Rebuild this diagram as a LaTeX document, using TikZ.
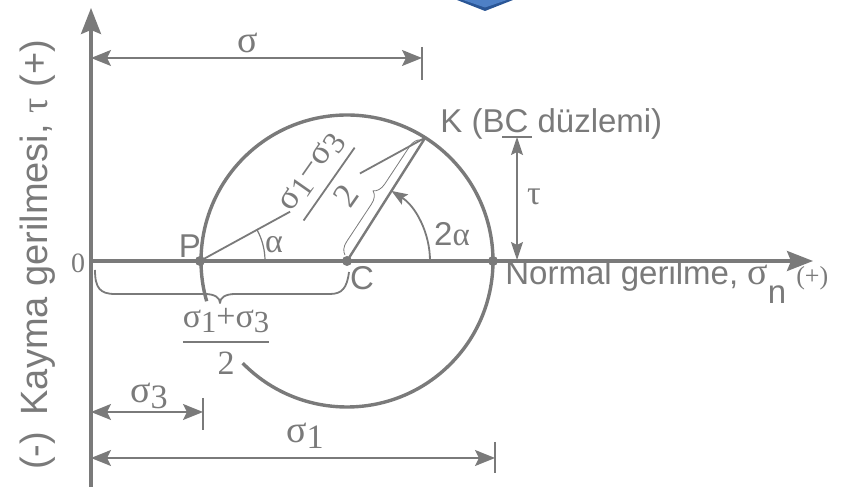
\documentclass[tikz,border=0pt]{standalone}
\usepackage{fontspec}
\setmainfont{Liberation Sans}
\newfontfamily\grk{Liberation Serif}
\usetikzlibrary{arrows.meta,decorations.pathreplacing,calc}
\definecolor{ink}{RGB}{122,122,122}
\definecolor{bluedark}{RGB}{42,86,150}
\definecolor{bluelight}{RGB}{78,128,198}
\newcommand{\dn}[1]{\raisebox{-0.35ex}{\scalebox{0.9}{#1}}}
\begin{document}
\begin{tikzpicture}[x=0.5pt,y=0.5pt, line join=round,
  axisline/.style={ink, line width=1.6pt, -{Stealth[length=13pt,width=10pt,inset=2pt]}},
  dimline/.style={ink, line width=0.8pt, {Stealth[length=10pt,width=8pt,inset=2pt]}-{Stealth[length=10pt,width=8pt,inset=2pt]}},
  tickline/.style={ink, line width=0.7pt},
  circ/.style={ink, line width=1.7pt},
  radius line/.style={ink, line width=1.2pt},
  chord/.style={ink, line width=0.9pt},
  thinarc/.style={ink, line width=0.6pt},
  dot/.style={circle, fill=ink, inner sep=0pt, minimum size=5pt},
  lbl/.style={text=ink, inner sep=0pt, font=\fontsize{16.5}{18}\selectfont},
  glbl/.style={text=ink, inner sep=0pt, font=\grk\fontsize{17}{18}\selectfont},
]
\useasboundingbox (0,0) rectangle (866,491);
% blue artefact at the top
\fill[bluedark] (457,491) -- (513,491) -- (485,480) -- cycle;
\fill[bluelight] (463,491) -- (507,491) -- (485,483.5) -- cycle;

% key points
\coordinate (O) at (91,230);
\coordinate (Ytop) at (91,483);
\coordinate (Ybot) at (91,4);
\coordinate (Xend) at (813,230);
\coordinate (P) at (200,230);
\coordinate (C) at (347,230);
\coordinate (S1) at (493,230);
\coordinate (K) at ($(C)+(57.6:146)$);

% axes
\draw[axisline] (Ybot) -- (Ytop);
\draw[axisline] (O) -- (Xend);

% Mohr circle (open between the two labels at lower left)
\draw[circ] ($(C)+(-135.6:146)$) arc[start angle=-135.6, end angle=196, radius=146];

% chord P-K, interrupted by the rotated label
\draw[chord] (P) -- ($(P)!0.40!(K)$);
\draw[chord] ($(P)!0.71!(K)$) -- (K);
% radius C-K
\draw[radius line] (C) -- (K);
% thin brace along CK
\draw[ink, line width=0.4pt, decorate, decoration={brace, amplitude=6pt}] ($(C)+(-2,6)$) -- ($(K)+(-4,-2)$);

% angle arcs
\draw[thinarc] ($(P)+(0:65)$) arc[start angle=0, end angle=28.7, radius=65];
\draw[ink, line width=0.9pt, -{Stealth[length=8pt,width=6pt,inset=1.5pt]}] ($(C)+(0:83)$) arc[start angle=0, end angle=57.6, radius=83];

% dots
\node[dot] (Pd) at (P) {};
\node[dot] (Cd) at (C) {};
\node[dot] (S1d) at (S1) {};

% brace below axis, from O to C
\draw[ink, line width=0.9pt] (95,221) .. controls (95,203) and (100,197) .. (115,197)
  -- (205,197) .. controls (215,197) and (220,193) .. (220,188)
  .. controls (220,193) and (225,197) .. (235,197)
  -- (330,197) .. controls (342,197) and (347,203) .. (349,219);

% dimension sigma (top)
\coordinate (sA) at (91,433);
\coordinate (sB) at (422,433);
\coordinate (sT1) at (422,444);
\coordinate (sT2) at (422,411);
\draw[dimline] (sA) -- (sB);
\draw[tickline] (sT1) -- (sT2);
\node[glbl, font=\grk\fontsize{19}{20}\selectfont] (lsig) at (248,448) {σ};

% dimension tau
\coordinate (tA) at (517,354);
\coordinate (tB) at (517,231);
\coordinate (tT1) at (502,354);
\coordinate (tT2) at (532,354);
\draw[dimline, {Stealth[length=9pt,width=6pt,inset=1.5pt]}-{Stealth[length=9pt,width=6pt,inset=1.5pt]}] (tA) -- (tB);
\draw[tickline] (tT1) -- (tT2);
\node[glbl] (ltau) at (534,294) {τ};

% dimension sigma3
\coordinate (s3A) at (91,79);
\coordinate (s3B) at (203,79);
\coordinate (s3T1) at (203,93);
\coordinate (s3T2) at (203,61);
\draw[dimline] (s3A) -- (s3B);
\draw[tickline] (s3T1) -- (s3T2);
\node[glbl, font=\grk\fontsize{19}{20}\selectfont] (ls3) at (149,95) {σ\dn{3}};

% dimension sigma1
\coordinate (s1A) at (91,33);
\coordinate (s1B) at (495,33);
\coordinate (s1T1) at (495,49);
\coordinate (s1T2) at (495,18);
\draw[dimline] (s1A) -- (s1B);
\draw[tickline] (s1T1) -- (s1T2);
\node[glbl, font=\grk\fontsize{19}{20}\selectfont] (ls1) at (305,55) {σ\dn{1}};

% labels
\node[lbl] (lP) at (190,245) {P};
\node[lbl] (lC) at (362,213) {C};
\node[glbl] (lalpha) at (274,246) {α};
\node[lbl] (l2a) at (452,257) {2{\grk α}};
\node[glbl, font=\grk\fontsize{14}{15}\selectfont] (lzero) at (78,228) {0};
\node[lbl, anchor=base west] (lK) at (440,358) {K (BC düzlemi)};
\node[lbl, anchor=base west] (lN) at (505,206) {Normal gerilme, {\grk\fontsize{19}{20}\selectfont σ}\raisebox{-0.55em}{n}\hspace{5pt}{\grk\fontsize{13}{14}\selectfont (+)}};
\node[lbl, rotate=90, font=\fontsize{19}{20}\selectfont] (lY) at (38,236) {(-)\hspace{3pt} Kayma gerilmesi, {\grk τ} (+)};

% fraction (sigma1+sigma3)/2 below the axis
\node[text=ink, inner sep=0pt, font=\grk\fontsize{17}{18}\selectfont] (fr1) at (226,150)
  {$\displaystyle{\hbox{σ\dn{1}+σ\dn{3}}\above 0.9pt\hbox{2}}$};
% rotated fraction (sigma1-sigma3)/2 on the chord
\node[text=ink, inner sep=0pt, rotate=55, font=\grk\fontsize{17.5}{18}\selectfont] (fr2) at (329,307)
  {$\displaystyle{\hbox{σ\dn{1}−σ\dn{3}}\above 0.9pt\hbox{2}}$};
\end{tikzpicture}
\end{document}
